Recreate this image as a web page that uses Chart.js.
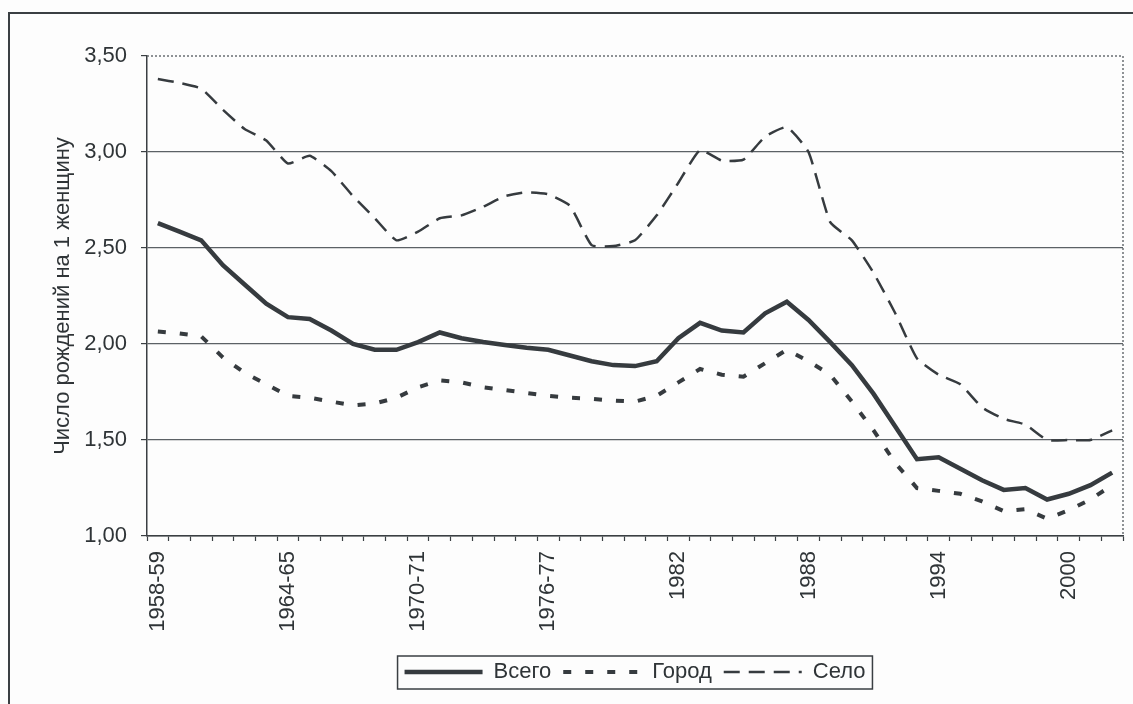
<!DOCTYPE html>
<html>
<head>
<meta charset="utf-8">
<script src="https://cdn.jsdelivr.net/npm/chart.js@4"></script>
<style>
  html, body { margin: 0; padding: 0; background: #fdfdfd; overflow: hidden; }
  #wrap { position: relative; width: 1133px; height: 704px; }
  #frame { position: absolute; left: 8px; top: 12px; width: 1200px; height: 800px;
           border: 2px solid #3a3f43; pointer-events: none; }
</style>
</head>
<body>
<div id="wrap">
  <canvas id="chart" width="1133" height="704"></canvas>
  <div id="frame"></div>
</div>
<script>
// годы (подписи оси X), каждая 6-я выводится
const years = [
  '1958-59', '1959-60', '1960-61', '1961-62', '1962-63', '1963-64',
  '1964-65', '1965-66', '1966-67', '1967-68', '1968-69', '1969-70',
  '1970-71', '1971-72', '1972-73', '1973-74', '1974-75', '1975-76',
  '1976-77', '1977-78', '1978-79', '1979-80', '1980', '1981',
  '1982', '1983', '1984', '1985', '1986', '1987',
  '1988', '1989', '1990', '1991', '1992', '1993',
  '1994', '1995', '1996', '1997', '1998', '1999',
  '2000', '2001', '2002'
];

const total = [
  2.63, 2.585, 2.54, 2.41, 2.31, 2.21, 2.14, 2.13, 2.07, 2.00, 1.97, 1.97,
  2.01, 2.06, 2.03, 2.01, 1.995, 1.98, 1.97, 1.94, 1.91, 1.89, 1.885, 1.91,
  2.03, 2.11, 2.07, 2.06, 2.16, 2.22, 2.125, 2.01, 1.89, 1.74, 1.57, 1.40,
  1.41, 1.35, 1.29, 1.24, 1.25, 1.19, 1.22, 1.265, 1.33
];

const city = [
  2.065, 2.055, 2.04, 1.93, 1.85, 1.79, 1.73, 1.72, 1.70, 1.68, 1.69, 1.72,
  1.775, 1.81, 1.80, 1.775, 1.76, 1.745, 1.73, 1.72, 1.715, 1.705, 1.70, 1.73,
  1.80, 1.87, 1.84, 1.83, 1.90, 1.97, 1.91, 1.84, 1.70, 1.55, 1.38, 1.25,
  1.235, 1.22, 1.18, 1.13, 1.14, 1.09, 1.135, 1.19, 1.265
];

const village = [
  3.38, 3.36, 3.33, 3.22, 3.12, 3.06, 2.94, 2.98, 2.90, 2.77, 2.655, 2.54,
  2.585, 2.655, 2.67, 2.715, 2.77, 2.79, 2.78, 2.72, 2.515, 2.51, 2.54, 2.67,
  2.84, 3.01, 2.955, 2.96, 3.08, 3.13, 3.00, 2.635, 2.54, 2.37, 2.16, 1.925,
  1.84, 1.79, 1.67, 1.61, 1.58, 1.50, 1.50, 1.50, 1.55
];

const yTicks = [1.0, 1.5, 2.0, 2.5, 3.0, 3.5];

const ink = '#363b3f';
const textColor = '#2f3437';

Chart.defaults.font.family = '"Liberation Sans", Arial, sans-serif';
Chart.defaults.font.size = 22;
Chart.defaults.color = textColor;

// рамка области построения (пунктир сверху и справа)
const plotBorder = {
  id: 'plotBorder',
  beforeDatasetsDraw(chart) {
    const { ctx, chartArea: a } = chart;
    ctx.save();
    ctx.strokeStyle = '#6a6f73';
    ctx.lineWidth = 1.5;
    ctx.setLineDash([2, 2]);
    ctx.beginPath();
    ctx.moveTo(a.left, a.top);
    ctx.lineTo(a.right, a.top);
    ctx.lineTo(a.right, a.bottom);
    ctx.stroke();
    ctx.restore();
  }
};

// рамка вокруг легенды
const legendBox = {
  id: 'legendBox',
  afterDraw(chart) {
    const boxes = chart.legend.legendHitBoxes;
    if (!boxes || !boxes.length) return;
    const ctx = chart.ctx;
    const l = Math.min(...boxes.map(b => b.left)) - 7;
    const r = Math.max(...boxes.map(b => b.left + b.width)) + 7;
    const t = Math.min(...boxes.map(b => b.top)) - 5;
    const btm = Math.max(...boxes.map(b => b.top + b.height)) + 6;
    ctx.save();
    ctx.strokeStyle = '#3a3f43';
    ctx.lineWidth = 1.5;
    ctx.strokeRect(l, t, r - l, btm - t);
    ctx.restore();
  }
};

const chart = new Chart(document.getElementById('chart'), {
  type: 'line',
  data: {
    labels: years,
    datasets: [
      { label: 'Всего', data: total, borderColor: ink, borderWidth: 4.5,
        borderDash: [], pointRadius: 0, tension: 0 },
      { label: 'Город', data: city, borderColor: ink, borderWidth: 4,
        borderDash: [8, 14], pointRadius: 0, tension: 0 },
      { label: 'Село', data: village, borderColor: ink, borderWidth: 2.5,
        borderDash: [16, 9], pointRadius: 0, tension: 0.15 }
    ]
  },
  options: {
    responsive: false,
    animation: false,
    layout: { padding: { left: 46, right: 10, top: 56, bottom: 11 } },
    plugins: {
      tooltip: { enabled: false },
      legend: {
        position: 'bottom',
        fullSize: false,
        labels: {
          usePointStyle: true,
          pointStyleWidth: 78,
          padding: 12,
          color: textColor,
          generateLabels: (c) => c.data.datasets.map((ds, i) => ({
            text: ds.label,
            strokeStyle: ds.borderColor,
            fillStyle: 'rgba(0,0,0,0)',
            lineWidth: ds.borderWidth,
            lineDash: ds.borderDash,
            lineCap: 'butt',
            pointStyle: 'line',
            hidden: false,
            datasetIndex: i,
            fontColor: textColor
          }))
        }
      }
    },
    scales: {
      x: {
        type: 'category',
        offset: true,
        afterFit: (s) => { s.height = 113; s.paddingLeft = 0; s.paddingRight = 0; },
        grid: { offset: true, drawOnChartArea: false, drawTicks: true,
                tickLength: 5, tickColor: '#3a3f43', tickWidth: 1.2 },
        border: { color: '#3a3f43', width: 1.5 },
        ticks: {
          autoSkip: false, minRotation: 90, maxRotation: 90, padding: 10,
          callback: (v, i) => (i % 6 === 0 ? years[i] : '')
        }
      },
      y: {
        min: yTicks[0],
        max: yTicks[yTicks.length - 1],
        afterFit: (s) => { s.width = 101; },
        afterBuildTicks: (s) => { s.ticks = yTicks.map(v => ({ value: v })); },
        grid: {
          color: (c) => (c.tick && c.tick.value >= 3.5 ? 'rgba(0,0,0,0)' : '#5c6166'),
          lineWidth: 1.2,
          tickLength: 6,
          tickColor: '#3a3f43'
        },
        border: { color: '#3a3f43', width: 1.5 },
        ticks: {
          padding: 14,
          callback: (v) => Number(v).toFixed(2).replace('.', ',')
        },
        title: {
          display: true,
          text: 'Число рождений на 1 женщину',
          padding: { top: 4, bottom: 14 },
          font: { size: 22 }
        }
      }
    }
  },
  plugins: [plotBorder, legendBox]
});
</script>
</body>
</html>
